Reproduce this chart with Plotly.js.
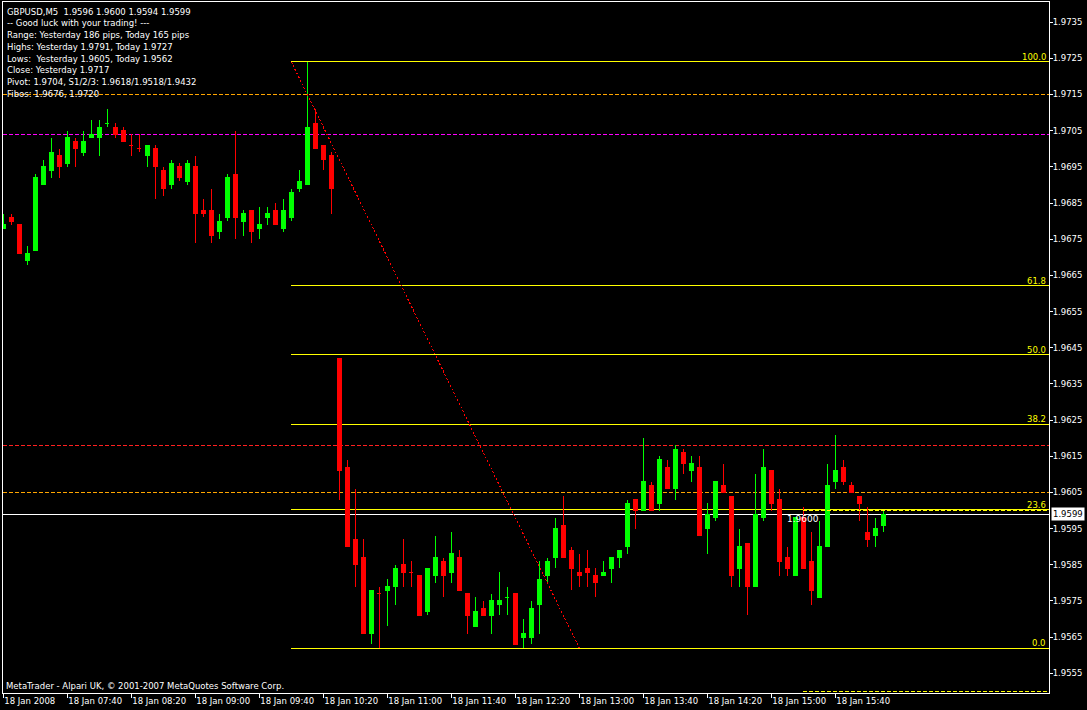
<!DOCTYPE html>
<html>
<head>
<meta charset="utf-8">
<script src="https://cdn.plot.ly/plotly-3.0.1.min.js"></script>
<style>
html,body{margin:0;padding:0;background:#000;}
#chart{width:1087px;height:710px;}
#chart .shapelayer path{shape-rendering:crispEdges;}
#chart .trace.boxes path{shape-rendering:crispEdges;}
</style>
</head>
<body>
<div id="chart"></div>
<script>
// ---- data (bar index 0 = 18 Jan 07:00, 5-minute bars) ----
const opens  = [1.9678,1.9681,1.9679,1.9669,1.9672,1.9690,1.9694,1.9698,1.9696,1.9702,
                1.9699,1.9703,1.9703,1.9707,1.9706,1.9705,1.9701,1.9700,1.9698,1.9700,
                1.9694,1.9690,1.9695,1.9691,1.9695,1.9683,1.9683,1.9677,1.9681,1.9693,
                1.9680,1.9683,1.9678,1.9681,1.9683,1.9678,1.9681,1.9689,1.9690,1.9707,
                1.9701,1.9698,1.9642,1.9612,1.9592,1.9587,1.9566,1.9577,1.9578,1.9579,
                1.9585,1.9583,1.9582,1.9572,1.9582,1.9586,1.9583,1.9587,1.9577,1.9568,
                1.9573,1.9571,1.9574,1.9576,1.9577,1.9565,1.9565,1.9574,1.9582,1.9587,
                1.9596,1.9589,1.9583,1.9584,1.9582,1.9582,1.9584,1.9587,1.9590,1.9603,
                1.9600,1.9607,1.9602,1.9612,1.9606,1.9616,1.9611,1.9612,1.9595,1.9598,
                1.9607,1.9604,1.9584,1.9591,1.9579,1.9598,1.9611,1.9603,1.9587,1.9582,
                1.9598,1.9586,1.9576,1.9590,1.9608,1.9612,1.9607,1.9604,1.9594,1.9593,
                1.9596];
const highs  = [1.9682,1.9682,1.9679,1.9673,1.9693,1.9697,1.9703,1.9700,1.9705,1.9703,
                1.9705,1.9708,1.9708,1.9711,1.9707,1.9706,1.9704,1.9704,1.9701,1.9701,
                1.9695,1.9697,1.9696,1.9697,1.9698,1.9686,1.9689,1.9682,1.9693,1.9705,
                1.9683,1.9683,1.9684,1.9684,1.9685,1.9686,1.9689,1.9694,1.9724,1.9711,
                1.9701,1.9699,1.9642,1.9614,1.9606,1.9592,1.9578,1.9579,1.9581,1.9585,
                1.9592,1.9586,1.9582,1.9584,1.9593,1.9587,1.9594,1.9589,1.9577,1.9576,
                1.9575,1.9577,1.9583,1.9579,1.9577,1.9570,1.9575,1.9586,1.9587,1.9598,
                1.9604,1.9590,1.9588,1.9589,1.9584,1.9586,1.9587,1.9589,1.9603,1.9603,
                1.9620,1.9608,1.9615,1.9614,1.9618,1.9617,1.9615,1.9615,1.9602,1.9608,
                1.9613,1.9604,1.9595,1.9591,1.9610,1.9617,1.9611,1.9606,1.9590,1.9598,
                1.9601,1.9594,1.9597,1.9613,1.9621,1.9614,1.9608,1.9604,1.9601,1.9598,
                1.9600];
const lows   = [1.9678,1.9679,1.9671,1.9668,1.9672,1.9690,1.9692,1.9692,1.9695,1.9695,
                1.9698,1.9703,1.9698,1.9706,1.9703,1.9702,1.9698,1.9699,1.9695,1.9686,
                1.9687,1.9689,1.9691,1.9690,1.9674,1.9681,1.9674,1.9675,1.9680,1.9675,
                1.9676,1.9674,1.9675,1.9679,1.9679,1.9677,1.9680,1.9688,1.9690,1.9700,
                1.9694,1.9682,1.9603,1.9590,1.9579,1.9566,1.9563,1.9562,1.9568,1.9574,
                1.9579,1.9579,1.9571,1.9571,1.9580,1.9576,1.9580,1.9578,1.9566,1.9568,
                1.9571,1.9566,1.9571,1.9571,1.9563,1.9562,1.9563,1.9566,1.9580,1.9584,
                1.9587,1.9578,1.9579,1.9579,1.9576,1.9582,1.9580,1.9584,1.9588,1.9595,
                1.9600,1.9600,1.9600,1.9606,1.9603,1.9610,1.9608,1.9593,1.9588,1.9597,
                1.9605,1.9579,1.9579,1.9571,1.9579,1.9597,1.9600,1.9582,1.9582,1.9582,
                1.9584,1.9574,1.9576,1.9590,1.9606,1.9607,1.9605,1.9597,1.9590,1.9590,
                1.9594];
const closes = [1.9679,1.9680,1.9671,1.9671,1.9692,1.9695,1.9699,1.9695,1.9703,1.9700,
                1.9702,1.9704,1.9706,1.9707,1.9704,1.9702,1.9701,1.9700,1.9701,1.9695,
                1.9689,1.9696,1.9692,1.9696,1.9682,1.9682,1.9676,1.9680,1.9692,1.9681,
                1.9682,1.9677,1.9679,1.9682,1.9679,1.9683,1.9688,1.9691,1.9706,1.9700,
                1.9697,1.9689,1.9611,1.9590,1.9585,1.9566,1.9578,1.9577,1.9579,1.9584,
                1.9583,1.9583,1.9571,1.9584,1.9587,1.9582,1.9588,1.9578,1.9571,1.9572,
                1.9571,1.9575,1.9575,1.9576,1.9563,1.9566,1.9573,1.9581,1.9586,1.9595,
                1.9587,1.9584,1.9582,1.9583,1.9580,1.9583,1.9587,1.9589,1.9602,1.9600,
                1.9608,1.9600,1.9614,1.9606,1.9617,1.9613,1.9613,1.9593,1.9599,1.9608,
                1.9605,1.9582,1.9590,1.9579,1.9599,1.9612,1.9602,1.9586,1.9584,1.9598,
                1.9584,1.9578,1.9590,1.9607,1.9611,1.9608,1.9605,1.9602,1.9592,1.9595,
                1.9599];

const timeTickBars   = [0, 8, 16, 24, 32, 40, 48, 56, 64, 72, 80, 88, 96, 104];
const timeTickLabels = ["18 Jan 2008","18 Jan 07:40","18 Jan 08:20","18 Jan 09:00","18 Jan 09:40",
                        "18 Jan 10:20","18 Jan 11:00","18 Jan 11:40","18 Jan 12:20","18 Jan 13:00",
                        "18 Jan 13:40","18 Jan 14:20","18 Jan 15:00","18 Jan 15:40"];
const priceTicks = [1.9555,1.9565,1.9575,1.9585,1.9595,1.9605,1.9615,1.9625,1.9635,1.9645,
                    1.9655,1.9665,1.9675,1.9685,1.9695,1.9705,1.9715,1.9725,1.9735];

// indicator levels
const yesterdayCloseLine = 1.9715;
const pivotLine = 1.9704;
const s1Line = 1.9618;
const yesterdayLowLine = 1.9605;
// Fibonacci retracement
const fibHighPrice = 1.9724, fibLowPrice = 1.9562;
const fibHighBar = 36, fibLowBar = 72;
const fibLevels = [0.0, 23.6, 38.2, 50.0, 61.8, 100.0];
// round-number lines
const roundLevels = [1.9600, 1.9550];
const roundStartBar = 100;
const roundLabel = "1.9600";

const infoLines = [
  "GBPUSD,M5  1.9596 1.9600 1.9594 1.9599",
  "-- Good luck with your trading! ---",
  "Range: Yesterday 186 pips, Today 165 pips",
  "Highs: Yesterday 1.9791, Today 1.9727",
  "Lows:  Yesterday 1.9605, Today 1.9562",
  "Close: Yesterday 1.9717",
  "Pivot: 1.9704, S1/2/3: 1.9618/1.9518/1.9432",
  "Fibos: 1.9676, 1.9720"
];
const footerText = "MetaTrader - Alpari UK, \u00A9 2001-2007 MetaQuotes Software Corp.";

// ---- build ----
const bars = opens.map((_, i) => i);
const xRange = [-0.04, 130.71];
const yRange = [1.954957, 1.974056];
const FONT = "DejaVu Sans, Verdana, sans-serif";
const FS = 8.5;
const nb = s => s.replace(/  /g, " \u00A0");

const trace = {
  type: "candlestick",
  x: bars, open: opens, high: highs, low: lows, close: closes,
  increasing: {line: {color: "#00FF00", width: 1}, fillcolor: "#00FF00"},
  decreasing: {line: {color: "#FF0000", width: 1}, fillcolor: "#FF0000"},
  whiskerwidth: 0,
  hoverinfo: "skip"
};

const shapes = [];
const hline = (p, color, dash) => shapes.push({
  type: "line", xref: "paper", yref: "y", x0: 0, x1: 1, y0: p, y1: p,
  line: {color: color, width: 1, dash: dash}, layer: "below"
});
hline(yesterdayCloseLine, "#FFA500", "4px,2px");
hline(pivotLine, "#FF00FF", "4px,2px");
hline(s1Line, "#FF2020", "4px,2px");
hline(yesterdayLowLine, "#FFA500", "4px,2px");
hline(closes[closes.length - 1], "#FFFFFF", "solid");

const fibPrice = lv => fibLowPrice + (fibHighPrice - fibLowPrice) * lv / 100;
fibLevels.forEach(lv => shapes.push({
  type: "line", xref: "x", yref: "y", x0: fibHighBar, x1: xRange[1],
  y0: fibPrice(lv), y1: fibPrice(lv), line: {color: "#FFFF00", width: 1}, layer: "below"
}));
shapes.push({
  type: "line", xref: "x", yref: "y", x0: fibHighBar, y0: fibHighPrice, x1: fibLowBar, y1: fibLowPrice,
  line: {color: "#FF0000", width: 1, dash: "2px,2px"}
});
roundLevels.forEach(p => shapes.push({
  type: "line", xref: "x", yref: "y", x0: roundStartBar, x1: xRange[1], y0: p, y1: p,
  line: {color: "#FFFF00", width: 1, dash: "4px,2px"}
}));

const annotations = [];
fibLevels.forEach(lv => annotations.push({
  xref: "paper", yref: "y", x: 1, y: fibPrice(lv), xanchor: "right", yanchor: "bottom",
  xshift: -1, yshift: -2, text: lv.toFixed(1), showarrow: false,
  font: {family: FONT, size: FS, color: "#FFFF00"}
}));
infoLines.forEach((t, k) => annotations.push({
  xref: "paper", yref: "paper", x: 0, y: 1, xanchor: "left", yanchor: "middle",
  xshift: 2, yshift: -(9.5 + 11.75 * k), text: nb(t), showarrow: false,
  font: {family: FONT, size: FS, color: "#FFFFFF"}
}));
annotations.push({
  xref: "paper", yref: "paper", x: 0, y: 0, xanchor: "left", yanchor: "middle",
  xshift: 1, yshift: 7, text: footerText, showarrow: false,
  font: {family: FONT, size: FS, color: "#FFFFFF"}
});
annotations.push({
  xref: "x", yref: "y", x: roundStartBar, y: roundLevels[0], xanchor: "center", yanchor: "top",
  yshift: -1, text: roundLabel, showarrow: false,
  font: {family: FONT, size: 9, color: "#FFFFFF"}
});
annotations.push({
  xref: "paper", yref: "y", x: 1, y: closes[closes.length - 1], xanchor: "left", yanchor: "middle",
  xshift: 2, text: closes[closes.length - 1].toFixed(4), showarrow: false,
  bgcolor: "#FFFFFF", borderpad: 1,
  font: {family: FONT, size: FS, color: "#000000"}
});

const layout = {
  width: 1087, height: 710,
  paper_bgcolor: "#000000", plot_bgcolor: "#000000",
  margin: {l: 3, r: 38, t: 2, b: 17},
  showlegend: false,
  font: {family: FONT, size: FS, color: "#FFFFFF"},
  boxgap: 0.3, boxgroupgap: 0.3,
  xaxis: {
    range: xRange, showgrid: false, zeroline: false,
    showline: true, linecolor: "#FFFFFF", linewidth: 1, mirror: true,
    ticks: "outside", ticklen: 4, tickcolor: "#FFFFFF", tickwidth: 1,
    tickvals: timeTickBars, ticktext: timeTickLabels,
    ticklabelposition: "outside right",
    tickfont: {family: FONT, size: FS, color: "#FFFFFF"},
    rangeslider: {visible: false}, fixedrange: true
  },
  yaxis: {
    side: "right", range: yRange, showgrid: false, zeroline: false,
    showline: true, linecolor: "#FFFFFF", linewidth: 1, mirror: true,
    ticks: "outside", ticklen: 3, tickcolor: "#FFFFFF", tickwidth: 1,
    ticklabelstandoff: -2,
    tickvals: priceTicks, ticktext: priceTicks.map(v => v.toFixed(4)),
    tickfont: {family: FONT, size: FS, color: "#FFFFFF"},
    fixedrange: true
  },
  shapes: shapes,
  annotations: annotations
};

Plotly.newPlot("chart", [trace], layout, {displayModeBar: false, staticPlot: true});
</script>
</body>
</html>
